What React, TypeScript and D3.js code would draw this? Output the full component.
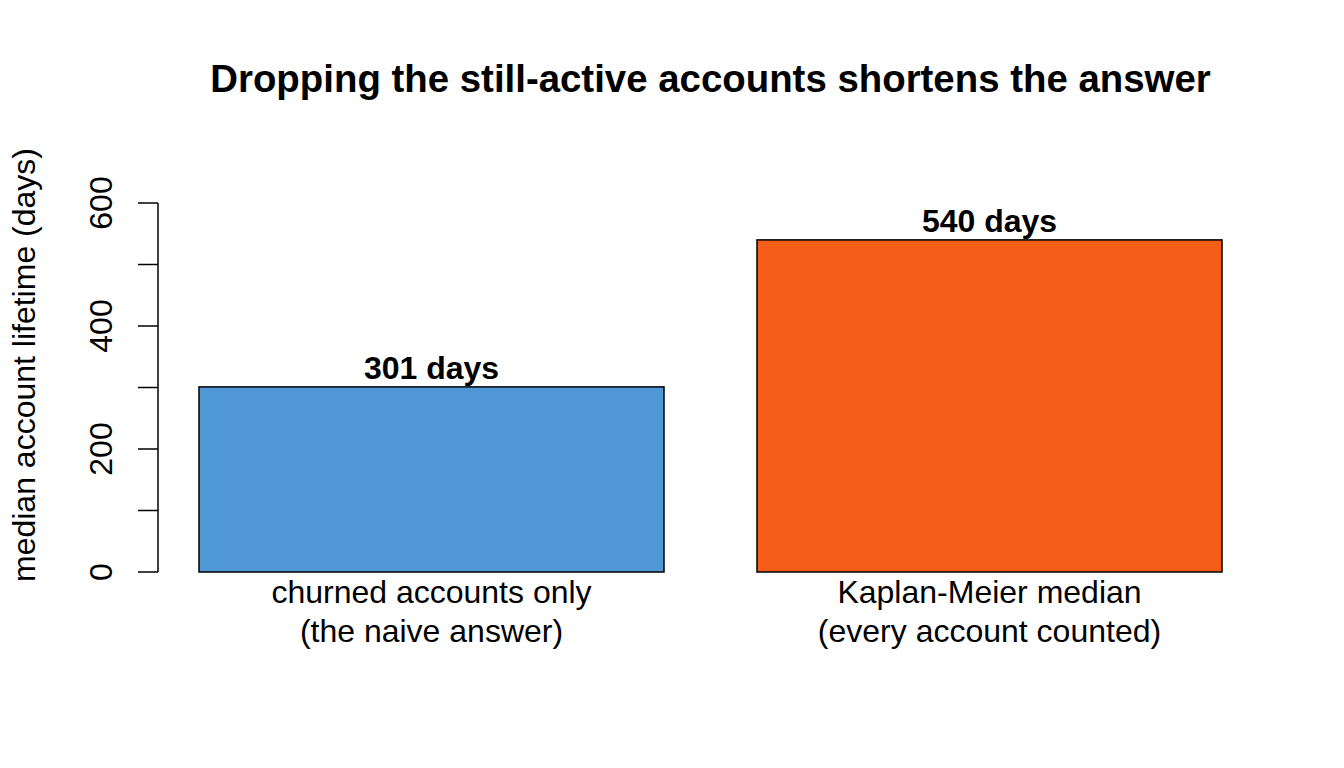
import React, { useRef, useEffect } from 'react';
import * as d3 from 'd3';

const categories = ['churned', 'km'];
const labelLines = [
  ['churned accounts only', '(the naive answer)'],
  ['Kaplan-Meier median', '(every account counted)'],
];
const medianDays = [301, 540];
const barColors = ['#5097d5', '#f45e18'];
const yTicks = [0, 100, 200, 300, 400, 500, 600];
const yTickLabels = [0, 200, 400, 600];

const W = 1344;
const H = 768;
const FONT = '"Liberation Sans", Arial, Helvetica, sans-serif';

const App = () => {
  const svgRef = useRef(null);

  useEffect(() => {
    document.body.style.margin = '0';
    const svg = d3.select(svgRef.current);
    svg.selectAll('*').remove();

    const x = d3.scaleBand()
      .domain(categories)
      .range([199, 1222])
      .paddingInner(1 / 6)
      .paddingOuter(0);

    const y = d3.scaleLinear()
      .domain([0, 600])
      .range([572, 203]);

    const axisX = 158;

    // title
    svg.append('text')
      .attr('x', (axisX + 1263) / 2)
      .attr('y', 92)
      .attr('text-anchor', 'middle')
      .attr('font-family', FONT)
      .attr('font-weight', 'bold')
      .attr('font-size', 38.4)
      .text('Dropping the still-active accounts shortens the answer');

    // bars
    svg.append('g')
      .selectAll('rect')
      .data(categories)
      .join('rect')
      .attr('x', d => x(d))
      .attr('y', (d, i) => y(medianDays[i]))
      .attr('width', x.bandwidth())
      .attr('height', (d, i) => y(0) - y(medianDays[i]))
      .attr('fill', (d, i) => barColors[i])
      .attr('stroke', '#000')
      .attr('stroke-width', 1.5);

    // value labels
    svg.append('g')
      .selectAll('text')
      .data(categories)
      .join('text')
      .attr('x', d => x(d) + x.bandwidth() / 2)
      .attr('y', (d, i) => y(medianDays[i]) - 8)
      .attr('text-anchor', 'middle')
      .attr('font-family', FONT)
      .attr('font-weight', 'bold')
      .attr('font-size', 32)
      .text((d, i) => `${medianDays[i]} days`);

    // category labels
    const names = svg.append('g')
      .selectAll('text')
      .data(categories)
      .join('text')
      .attr('text-anchor', 'middle')
      .attr('font-family', FONT)
      .attr('font-size', 32);
    names.each(function (d, i) {
      const t = d3.select(this);
      labelLines[i].forEach((line, j) => {
        t.append('tspan')
          .attr('x', x(d) + x.bandwidth() / 2)
          .attr('y', 603 + j * 39)
          .text(line);
      });
    });

    // y axis
    const ax = svg.append('g').attr('stroke', '#000').attr('stroke-width', 1.5);
    ax.append('line')
      .attr('x1', axisX).attr('x2', axisX)
      .attr('y1', y(0)).attr('y2', y(600));
    ax.selectAll('line.tick')
      .data(yTicks)
      .join('line')
      .attr('class', 'tick')
      .attr('x1', axisX - 20).attr('x2', axisX)
      .attr('y1', d => y(d)).attr('y2', d => y(d));

    svg.append('g')
      .selectAll('text')
      .data(yTickLabels)
      .join('text')
      .attr('transform', d => `translate(112,${y(d)}) rotate(-90)`)
      .attr('text-anchor', 'middle')
      .attr('font-family', FONT)
      .attr('font-size', 32)
      .text(d => d);

    // y label
    svg.append('text')
      .attr('transform', 'translate(35,365) rotate(-90)')
      .attr('text-anchor', 'middle')
      .attr('font-family', FONT)
      .attr('font-size', 32)
      .text('median account lifetime (days)');
  }, []);

  return (
    <svg ref={svgRef} width={W} height={H} style={{ display: 'block', background: '#fff' }}></svg>
  );
};

export default App;
